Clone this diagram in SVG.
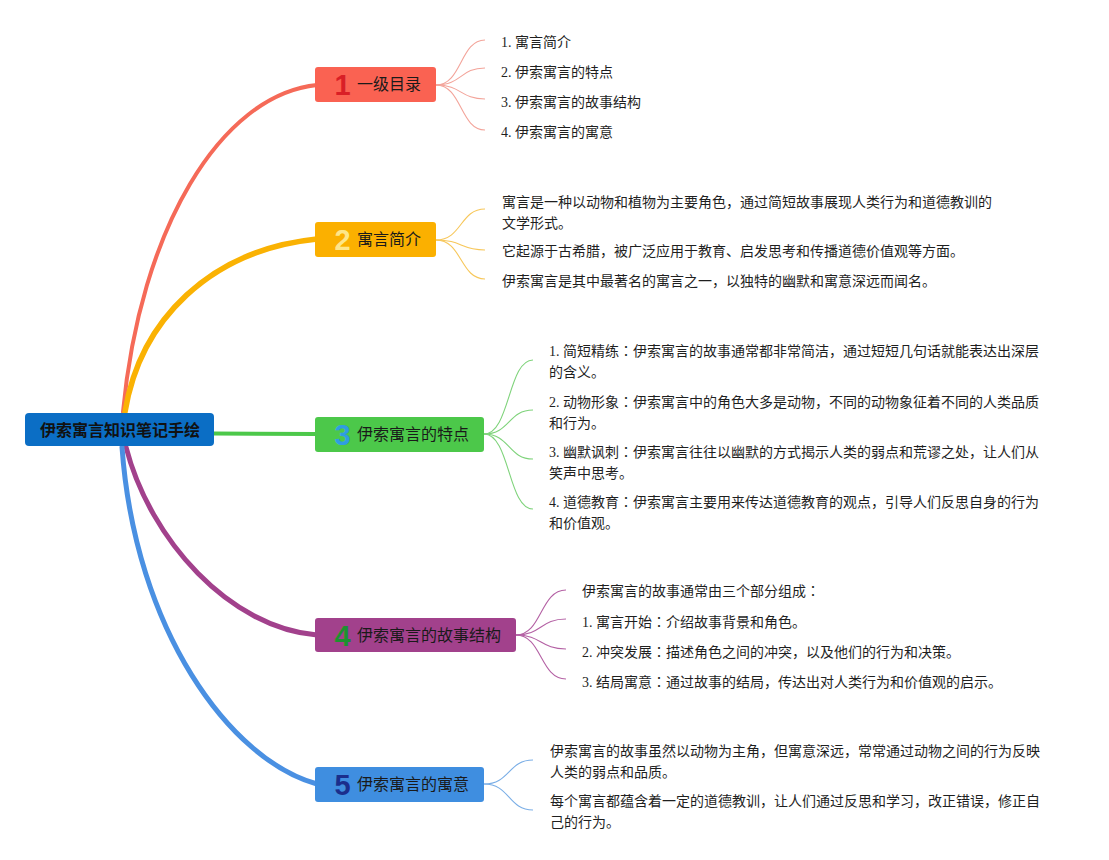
<svg xmlns="http://www.w3.org/2000/svg" width="1109" height="860" viewBox="0 0 1109 860">
<style>
.main{fill:none;stroke-linecap:round}
.sub{fill:none;stroke-width:1.1}
.lbl{font-family:"Noto Sans CJK SC","Liberation Sans",sans-serif;font-size:16px;fill:#1a1a1a}
.num{font-family:"Liberation Sans","DejaVu Sans",sans-serif;font-weight:bold;font-size:29px;text-anchor:middle}
.txt{font-family:"Liberation Serif","Noto Sans CJK SC",serif;font-size:14px;fill:#1f1f1f}
.c{font-family:"Noto Sans CJK TC",sans-serif}
.root{font-family:"Noto Sans CJK SC","Liberation Sans",sans-serif;font-size:16px;font-weight:bold;fill:#111;text-anchor:middle}
</style>
<rect width="1109" height="860" fill="#ffffff"/>
<g id="connectors">
<path class="main" d="M123,412 C140,230 220,95 317,85" stroke="#f56a58" stroke-width="4"/>
<path class="main" d="M125,412 C140,320 210,250 317,239" stroke="#fab203" stroke-width="5.5"/>
<path class="main" d="M214,433.5 L317,434" stroke="#4cc84a" stroke-width="4"/>
<path class="main" d="M126,447 C150,540 230,628 317,635" stroke="#a2418c" stroke-width="5"/>
<path class="main" d="M122,447 C135,630 230,760 317,784" stroke="#4a90e2" stroke-width="5"/>
<g stroke="#f3a49a">
<path class="sub" d="M436,85 C462,85 460,40 485,40"/>
<path class="sub" d="M436,85 C462,85 460,68 485,68"/>
<path class="sub" d="M436,85 C462,85 460,99 485,99"/>
<path class="sub" d="M436,85 C462,85 460,130 485,130"/>
</g>
<g stroke="#f7c75a">
<path class="sub" d="M436,240 C462,240 460,209 485,209"/>
<path class="sub" d="M436,240 C462,240 460,250 485,250"/>
<path class="sub" d="M436,240 C462,240 460,279 485,279"/>
</g>
<g stroke="#7fd37b">
<path class="sub" d="M484,434 C510,434 508,360 533,360"/>
<path class="sub" d="M484,434 C510,434 508,410 533,410"/>
<path class="sub" d="M484,434 C510,434 508,459 533,459"/>
<path class="sub" d="M484,434 C510,434 508,509 533,509"/>
</g>
<g stroke="#b461a4">
<path class="sub" d="M516,635 C542,635 540,590 566,590"/>
<path class="sub" d="M516,635 C542,635 540,619 566,619"/>
<path class="sub" d="M516,635 C542,635 540,649 566,649"/>
<path class="sub" d="M516,635 C542,635 540,679 566,679"/>
</g>
<g stroke="#7aaee6">
<path class="sub" d="M484,784 C510,784 508,760 533,760"/>
<path class="sub" d="M484,784 C510,784 508,810 533,810"/>
</g>
</g>
<g id="root">
<rect x="25" y="413" width="189" height="33" rx="4" fill="#0b6ec5"/>
<text class="root" x="120" y="435.5">伊索寓言知识笔记手绘</text>
</g>
<g id="n1">
<rect x="315" y="67" width="121" height="35" rx="3" fill="#fa6252"/>
<text class="num" x="342.5" y="95" fill="#d91f26">1</text>
<text class="lbl" x="357" y="90.2">一级目录</text>
</g>
<g id="n2">
<rect x="315" y="222" width="121" height="35" rx="3" fill="#fbb000"/>
<text class="num" x="342.5" y="250" fill="#fde68a">2</text>
<text class="lbl" x="357" y="245.2">寓言简介</text>
</g>
<g id="n3">
<rect x="315" y="417" width="169" height="35" rx="3" fill="#4cc84a"/>
<text class="num" x="342.5" y="445" fill="#2f9de2">3</text>
<text class="lbl" x="357" y="440.2">伊索寓言的特点</text>
</g>
<g id="n4">
<rect x="315" y="618" width="201" height="34" rx="3" fill="#a2418c"/>
<text class="num" x="342.5" y="645.5" fill="#1e9130">4</text>
<text class="lbl" x="357" y="640.7">伊索寓言的故事结构</text>
</g>
<g id="n5">
<rect x="315" y="767" width="169" height="35" rx="3" fill="#3f8ee0"/>
<text class="num" x="342.5" y="795" fill="#1b2e8c">5</text>
<text class="lbl" x="357" y="790.2">伊索寓言的寓意</text>
</g>
<g id="n1-items">
<text class="txt" x="501" y="46.5">1. 寓言简介</text>
<text class="txt" x="501" y="76.5">2. 伊索寓言的特点</text>
<text class="txt" x="501" y="106.5">3. 伊索寓言的故事结构</text>
<text class="txt" x="501" y="136.5">4. 伊索寓言的寓意</text>
</g>
<g id="n2-items">
<text class="txt" x="502" y="207">寓言是一种以动物和植物为主要角色，通过简短故事展现人类行为和道德教训的</text>
<text class="txt" x="502" y="227.5">文学形式。</text>
<text class="txt" x="502" y="256">它起源于古希腊，被广泛应用于教育、启发思考和传播道德价值观等方面。</text>
<text class="txt" x="502" y="285.5">伊索寓言是其中最著名的寓言之一，以独特的幽默和寓意深远而闻名。</text>
</g>
<g id="n3-items">
<text class="txt" x="549" y="356">1. 简短精练<tspan class="c">：</tspan>伊索寓言的故事通常都非常简洁，通过短短几句话就能表达出深层</text>
<text class="txt" x="549" y="376.5">的含义。</text>
<text class="txt" x="549" y="407">2. 动物形象<tspan class="c">：</tspan>伊索寓言中的角色大多是动物，不同的动物象征着不同的人类品质</text>
<text class="txt" x="549" y="427.5">和行为。</text>
<text class="txt" x="549" y="457">3. 幽默讽刺<tspan class="c">：</tspan>伊索寓言往往以幽默的方式揭示人类的弱点和荒谬之处，让人们从</text>
<text class="txt" x="549" y="477.5">笑声中思考。</text>
<text class="txt" x="549" y="507">4. 道德教育<tspan class="c">：</tspan>伊索寓言主要用来传达道德教育的观点，引导人们反思自身的行为</text>
<text class="txt" x="549" y="527.5">和价值观。</text>
</g>
<g id="n4-items">
<text class="txt" x="582" y="596">伊索寓言的故事通常由三个部分组成<tspan class="c">：</tspan></text>
<text class="txt" x="582" y="626.5">1. 寓言开始<tspan class="c">：</tspan>介绍故事背景和角色。</text>
<text class="txt" x="582" y="656.5">2. 冲突发展<tspan class="c">：</tspan>描述角色之间的冲突，以及他们的行为和决策。</text>
<text class="txt" x="582" y="686.5">3. 结局寓意<tspan class="c">：</tspan>通过故事的结局，传达出对人类行为和价值观的启示。</text>
</g>
<g id="n5-items">
<text class="txt" x="550" y="756">伊索寓言的故事虽然以动物为主角，但寓意深远，常常通过动物之间的行为反映</text>
<text class="txt" x="550" y="776.5">人类的弱点和品质。</text>
<text class="txt" x="550" y="806">每个寓言都蕴含着一定的道德教训，让人们通过反思和学习，改正错误，修正自</text>
<text class="txt" x="550" y="826.5">己的行为。</text>
</g>
</svg>
